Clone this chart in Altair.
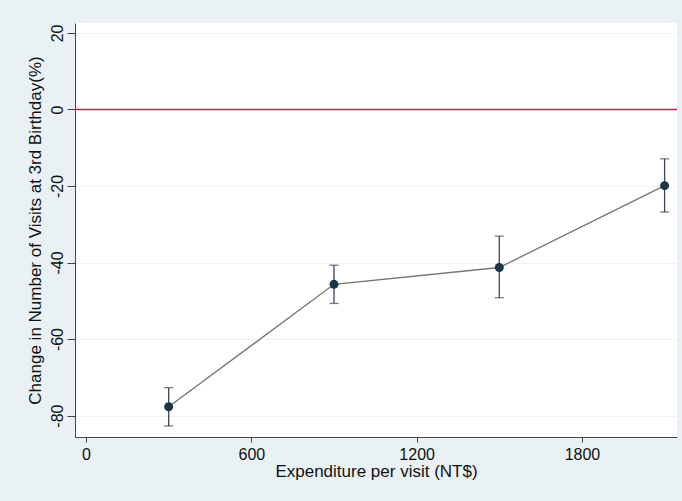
import altair as alt
import pandas as pd

expenditure = [300, 900, 1500, 2100]
change = [-77.7, -45.7, -41.3, -19.9]
ci_low = [-82.7, -50.7, -49.2, -26.8]
ci_high = [-72.7, -40.7, -33.1, -12.9]
x_ticks = [0, 600, 1200, 1800]
y_ticks = [20, 0, -20, -40, -60, -80]
ref_value = [0]

df = pd.DataFrame(dict(x=expenditure, y=change, lo=ci_low, hi=ci_high))
ref_df = pd.DataFrame(dict(y=ref_value))

font = "Liberation Sans"
xscale = alt.Scale(domain=[-40, 2145], nice=False, zero=False)
yscale = alt.Scale(domain=[-85.6, 22.6], nice=False, zero=False)

xaxis = alt.Axis(values=x_ticks, title="Expenditure per visit (NT$)", grid=False,
                 labelExpr="datum.value + ''",
                 tickSize=5, tickColor="#444444", domainColor="#444444",
                 labelFontSize=16, titleFontSize=17, labelPadding=4, titlePadding=1,
                 labelColor="#111111", titleColor="#111111", labelFont=font, titleFont=font,
                 titleFontWeight="normal")
yaxis = alt.Axis(values=y_ticks, title="Change in Number of Visits at 3rd Birthday(%)",
                 labelExpr="datum.value + ''",
                 grid=True, gridColor="#f0f3f4", tickSize=8, tickColor="#444444",
                 domainColor="#444444", labelAngle=270, labelAlign="center",
                 labelBaseline="bottom", labelFontSize=16, titleFontSize=17,
                 labelPadding=2, titlePadding=5, labelColor="#111111", titleColor="#111111",
                 labelFont=font, titleFont=font, titleFontWeight="normal")

X = alt.X("x:Q", scale=xscale, axis=xaxis)
Y = alt.Y("y:Q", scale=yscale, axis=yaxis)

ref = alt.Chart(ref_df).mark_rule(color="#d81b4a", strokeWidth=1.6).encode(y=Y)
line = alt.Chart(df).mark_line(color="#75756a", strokeWidth=1.3).encode(x=X, y=Y)
err = alt.Chart(df).mark_rule(color="#3b4658", strokeWidth=1.3).encode(
    x=X, y=alt.Y("lo:Q", scale=yscale, axis=yaxis), y2="hi:Q")
cap_lo = alt.Chart(df).mark_tick(color="#3b4658", orient="horizontal", size=9, thickness=1.3).encode(
    x=X, y=alt.Y("lo:Q", scale=yscale, axis=yaxis))
cap_hi = alt.Chart(df).mark_tick(color="#3b4658", orient="horizontal", size=9, thickness=1.3).encode(
    x=X, y=alt.Y("hi:Q", scale=yscale, axis=yaxis))
pts = alt.Chart(df).mark_circle(color="#1d3645", size=80, opacity=1).encode(x=X, y=Y)

chart = alt.layer(ref, line, err, cap_lo, cap_hi, pts).properties(
    width=602, height=414,
    autosize=alt.AutoSizeParams(type="none"),
    padding={"left": 75, "top": 23, "right": 5, "bottom": 64},
    background="#e9f1f4",
).configure_view(fill="white", strokeWidth=0)

chart.save("out.html", embed_options={"renderer": "svg", "actions": False})
